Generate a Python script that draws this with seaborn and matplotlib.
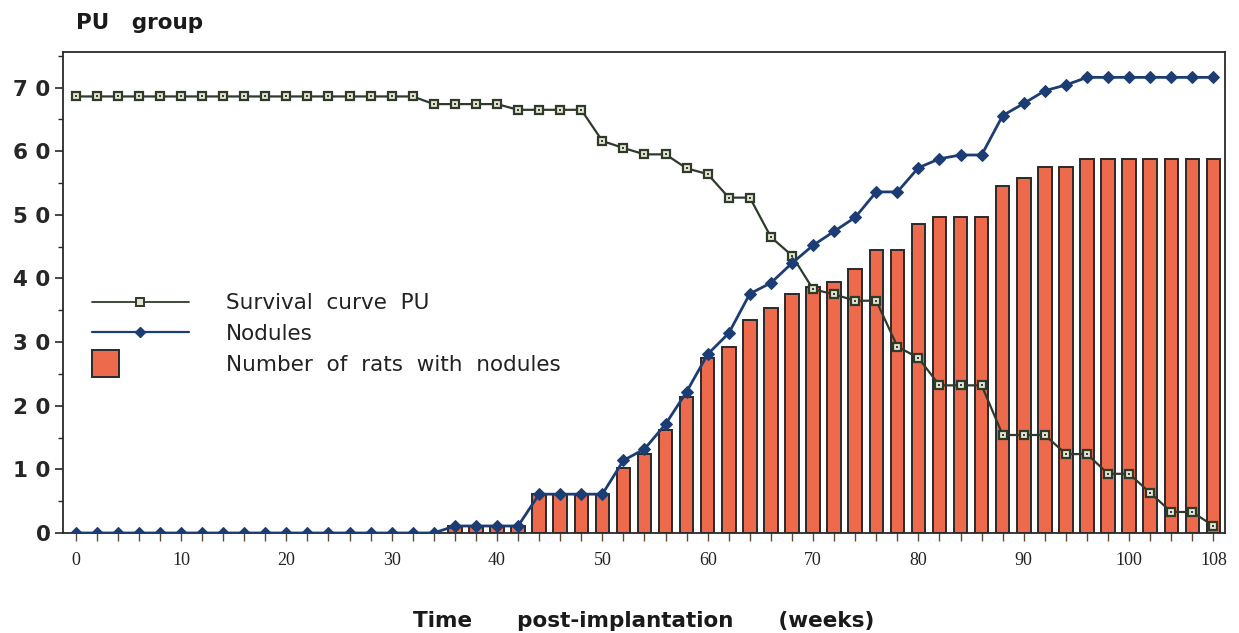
import numpy as np
import pandas as pd
import matplotlib
matplotlib.use("Agg")
import matplotlib.pyplot as plt
import seaborn as sns
from matplotlib.lines import Line2D
from matplotlib.patches import Patch, Rectangle
from matplotlib.legend_handler import HandlerPatch
from matplotlib.ticker import MultipleLocator, FixedLocator, FuncFormatter

# ---------------- data ----------------
weeks = list(range(0, 110, 2))  # 0..108 every 2 weeks

survival = [68.6] * 17 + [67.4, 67.4, 67.4, 67.4,
            66.5, 66.5, 66.5, 66.5,
            61.6, 60.5, 59.5, 59.5, 57.3, 56.4, 52.7, 52.7, 46.5, 43.6,
            38.3, 37.5, 36.5, 36.5, 29.3, 27.5, 23.2, 23.2, 23.2,
            15.4, 15.4, 15.4, 12.4, 12.4, 9.3, 9.3, 6.3, 3.3, 3.3, 1.1]

nodules = [0.0] * 18 + [1.1, 1.1, 1.1, 1.1,
           6.1, 6.1, 6.1, 6.1,
           11.4, 13.2, 17.1, 22.2, 28.1, 31.4, 37.6, 39.3, 42.4,
           45.2, 47.4, 49.6, 53.6, 53.6, 57.4, 58.8, 59.4, 59.4,
           65.6, 67.5, 69.5, 70.4, 71.6, 71.6, 71.6, 71.6, 71.6, 71.6, 71.6]

bar_weeks = list(range(36, 110, 2))
rats_with_nodules = [1.1, 1.1, 1.1, 1.1,
                     6.1, 6.1, 6.1, 6.1,
                     10.2, 12.4, 16.2, 21.4, 27.5, 29.3, 33.5, 35.3, 37.5,
                     38.6, 39.4, 41.5, 44.5, 44.5, 48.5, 49.6, 49.6, 49.6,
                     54.6, 55.8, 57.5, 57.5, 58.8, 58.8, 58.8, 58.8, 58.8, 58.8, 58.8]

y_ticks = [0, 10, 20, 30, 40, 50, 60, 70]
x_tick_labels = [0, 10, 20, 30, 40, 50, 60, 70, 80, 90, 100, 108]

labels = ["Survival  curve  PU", "Nodules", "Number  of  rats  with  nodules"]
title = "PU   group"
xlabel = "Time      post-implantation      (weeks)"

# ---------------- styling ----------------
sns.set_style("ticks")
plt.rcParams["font.family"] = ["DejaVu Sans"]

bar_color = "#EE6A4C"
surv_color = "#2E3A2C"
nod_color = "#1C3D74"

fig = plt.figure(figsize=(12.39, 6.33), dpi=100)
ax = fig.add_axes([0.0508, 0.158, 0.9379, 0.760])

df_bar = pd.DataFrame({"week": bar_weeks, "rats": rats_with_nodules})
sns.barplot(data=df_bar, x="week", y="rats", native_scale=True, width=0.64,
            color=bar_color, saturation=1, edgecolor="#2a2a2a", linewidth=1.4,
            ax=ax, zorder=2)

df_line = pd.DataFrame({"week": weeks, "survival": survival, "nodules": nodules})
sns.lineplot(data=df_line, x="week", y="survival", color=surv_color, linewidth=1.6,
             marker="s", markersize=6.2, markerfacecolor="#E4E6CF",
             markeredgecolor=surv_color, markeredgewidth=1.6, ax=ax, zorder=4)
sns.scatterplot(data=df_line, x="week", y="survival", marker="s", s=4,
                color="#3a3a3a", linewidth=0, ax=ax, zorder=6)
sns.lineplot(data=df_line, x="week", y="nodules", color=nod_color, linewidth=2.0,
             marker="D", markersize=6.0, markerfacecolor=nod_color,
             markeredgecolor=nod_color, ax=ax, zorder=5)

ax.set_xlim(-1.2, 109.1)
ax.set_ylim(0, 75.6)

# x ticks: every 2 weeks, labelled at 10s and 108
ax.set_xticks(weeks)
ax.set_xticklabels([str(w) if w in x_tick_labels else "" for w in weeks],
                   family=["Liberation Serif", "DejaVu Serif"], fontsize=13)
ax.tick_params(axis="x", direction="out", length=6, width=1.0, colors="#5a4a3a",
               labelcolor="#222222", pad=8)

ax.yaxis.set_major_locator(FixedLocator(y_ticks))
ax.yaxis.set_minor_locator(MultipleLocator(5))
ax.yaxis.set_major_formatter(FuncFormatter(lambda v, p: " ".join(str(int(v)))))
ax.tick_params(axis="y", which="major", direction="out", length=6, width=1.2, pad=3,
               labelsize=15.5)
ax.tick_params(axis="y", which="minor", direction="out", length=3.5, width=1.0)
for lab in ax.get_yticklabels():
    lab.set_fontweight("bold")

for s in ax.spines.values():
    s.set_visible(True)
    s.set_color("#2a2a2a")
    s.set_linewidth(1.3)

ax.set_xlabel(xlabel, fontsize=15.5, fontweight="bold", labelpad=30, color="#1a1a1a")
ax.set_ylabel("")
fig.text(0.061, 0.963, title, fontsize=15.5, fontweight="bold", ha="left", va="center",
         color="#1a1a1a")


class LeftSquare(HandlerPatch):
    def create_artists(self, legend, orig_handle, xdescent, ydescent, width, height,
                       fontsize, trans):
        size = 27 * 72 / 100.0
        r = Rectangle((-xdescent, -ydescent + height / 2 - size / 2), size, size,
                      facecolor=bar_color, edgecolor="#2a2a2a", linewidth=1.4,
                      transform=trans)
        return [r]


handles = [
    Line2D([], [], color=surv_color, linewidth=1.3, marker="s", markersize=6.0,
           markerfacecolor="#E4E6CF", markeredgecolor=surv_color, markeredgewidth=1.4),
    Line2D([], [], color=nod_color, linewidth=1.6, marker="D", markersize=5.5,
           markerfacecolor=nod_color, markeredgecolor=nod_color),
    Patch(facecolor=bar_color, edgecolor="#2a2a2a"),
]
leg = ax.legend(handles, labels, loc="upper left", bbox_to_anchor=(0.0743, 0.537),
                bbox_transform=fig.transFigure, frameon=False, fontsize=15.5,
                handlelength=4.5, handletextpad=1.7, labelspacing=0.5,
                borderpad=0, borderaxespad=0,
                handler_map={Patch: LeftSquare()})
for t in leg.get_texts():
    t.set_color("#222222")

fig.savefig("out.png", dpi=100, facecolor="white")
